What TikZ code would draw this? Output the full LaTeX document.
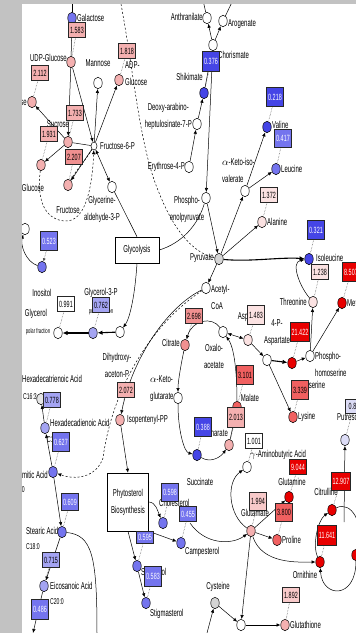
\documentclass[tikz,border=0pt]{standalone}
\usepackage{fontspec}
\setmainfont[FakeStretch=0.6]{Liberation Sans}
\usetikzlibrary{shapes.geometric,arrows.meta}
\newcommand\labf{\fontsize{10}{17}\selectfont}
\newcommand\numf{\fontsize{9}{9}\selectfont}
\newcommand\smlf{\fontsize{7}{7}\selectfont}
\newcommand\cf{\fontsize{8.5}{9}\selectfont}
\pgfdeclarelayer{back}\pgfdeclarelayer{bg}\pgfdeclarelayer{front}
\pgfsetlayers{back,bg,main,front}
\definecolor{cpink}{HTML}{F4B0B0}
\definecolor{cpinkd}{HTML}{F09090}
\definecolor{clpink}{HTML}{FBE2E2}
\definecolor{cvpink}{HTML}{F8CACA}
\definecolor{cred}{HTML}{E80000}
\definecolor{cmred}{HTML}{F06060}
\definecolor{cdblue}{HTML}{4545E6}
\definecolor{cmblue}{HTML}{7474EE}
\definecolor{clblue}{HTML}{A4A4F2}
\definecolor{cvlblue}{HTML}{DCDCF6}
\definecolor{cgray}{HTML}{D4D4D4}
\definecolor{cxlgray}{HTML}{E6E6E6}
\definecolor{cmargin}{HTML}{C2C2C2}
\tikzset{
 met/.style={ellipse, draw=black, line width=0.5pt, minimum width=8.5pt, minimum height=11.5pt, inner sep=0pt},
 val/.style={rectangle, draw=black!85, line width=0.6pt, minimum width=17pt, minimum height=15pt, inner xsep=1.5pt, inner ysep=0pt, font=\numf},
 lab/.style={inner sep=0pt, font=\labf},
 sml/.style={inner sep=0pt, font=\smlf},
 cl/.style={inner sep=0pt, font=\cf},
 rx/.style={-{Latex[length=4pt,width=3.5pt]}, line width=0.5pt},
 rxb/.style={{Latex[length=4pt,width=3.5pt]}-{Latex[length=4pt,width=3.5pt]}, line width=0.5pt},
 rxt/.style={-{Latex[length=5pt,width=4.5pt]}, line width=1.1pt},
 ln/.style={line width=0.5pt},
 dl/.style={dash pattern=on 2pt off 2pt, line width=0.5pt},
 tie/.style={densely dotted, line width=0.5pt, black!70},
 pbox/.style={draw, line width=0.6pt, fill=white, align=center, font=\labf, inner sep=2pt},
}
\begin{document}
\begin{tikzpicture}[x=1pt,y=-1pt]
\useasboundingbox (0,0) rectangle (356,633);
\begin{pgfonlayer}{back}
\fill[white] (0,0) rectangle (356,633);
\end{pgfonlayer}
% ---------- metabolites ----------
\node[met,fill=cmblue] (gal) at (72,18) {};
\node[met,fill=cpink] (udpg) at (71,62) {};
\node[met,fill=white] (mann) at (98,83) {};
\node[met,fill=cpink] (adpg) at (119,80) {};
\node[met,fill=cpink] (tre) at (32,102) {};
\node[met,fill=cpink] (suc) at (68,142) {};
\node[met,fill=white,minimum width=6pt,minimum height=8pt] (f6p) at (94,146) {};
\node[met,fill=cpink] (glc) at (41,165) {};
\node[met,fill=cpink] (fru) at (68,185) {};
\node[met,fill=white] (gap) at (112,187) {};
\node[met,fill=white] (anth) at (207,18) {};
\node[met,fill=white] (arog) at (223,21) {};
\node[met,fill=white] (chor) at (213,45) {};
\node[met,fill=cdblue] (shik) at (204,93) {};
\node[met,fill=white] (dahp) at (197,124) {};
\node[met,fill=white] (e4p) at (189,167) {};
\node[met,fill=white] (pep) at (206,198) {};
\node[met,fill=white] (kiv) at (245,191) {};
\node[met,fill=cdblue] (vali) at (267,127) {};
\node[met,fill=cmblue] (leu) at (276,169) {};
\node[met,fill=clpink] (ala) at (262,222) {};
\node[met,fill=cgray] (pyr) at (219,259) {};
\node[met,fill=cdblue] (ile) at (309,259) {};
\node[met,fill=clpink] (thr) at (313,302) {};
\node[met,fill=cred] (meth) at (342,303) {};
\node[met,fill=white] (acoa) at (206,288) {};
\node[met,fill=white] (oaa) at (223,332) {};
\node[met,fill=cpinkd] (cit) at (185,345) {};
\node[met,fill=white] (akg) at (178,398) {};
\node[met,fill=clpink] (asp) at (248,340) {};
\node[met,fill=white] (pasp) at (267,360) {};
\node[met,fill=cred] (hser) at (292,363) {};
\node[met,fill=white] (phser) at (310,356) {};
\node[met,fill=cmred] (lys) at (293,417) {};
\node[met,fill=cmred] (mal) at (237,407) {};
\node[met,fill=cpink] (fum) at (229,445) {};
\node[met,fill=cdblue] (succ) at (197,455) {};
\node[met,fill=white] (gaba) at (247,467) {};
\node[met,fill=cred] (gln) at (289,497) {};
\node[met,fill=cpink] (glu) at (251,531) {};
\node[met,fill=cmred] (pro) at (277,540) {};
\node[met,fill=cred] (citr) at (332,510) {};
\node[met,fill=cred] (orn) at (320,562) {};
\node[met,fill=cred] (arg) at (356,555) {};
\node[met,fill=cvlblue] (putr) at (345,440) {};
\node[met,fill=cgray] (cys) at (215,603) {};
\node[met,fill=white] (gec) at (241,625) {};
\node[met,fill=cpink] (gsh) at (285,625) {};
\node[met,fill=white] (ino0) at (25,229) {};
\node[met,fill=cmblue] (ino) at (42,267) {};
\node[met,fill=white] (glyc) at (58,333) {};
\node[met,fill=clblue] (g3p) at (93,333) {};
\node[met,fill=white] (dhap) at (120,332) {};
\node[met,fill=cpink] (ipp) at (120,420) {};
\node[met,fill=cxlgray] (c163) at (41,399) {};
\node[met,fill=clblue] (c162) at (45,428) {};
\node[met,fill=cmblue] (c160) at (53,472) {};
\node[met,fill=cmblue] (c180) at (62,532) {};
\node[met,fill=clblue] (c200) at (44,586) {};
\node[met,fill=cmblue] (chol) at (163,523) {};
\node[met,fill=cmblue] (camp) at (181,543) {};
\node[met,fill=cmblue] (sito) at (137,566) {};
\node[met,fill=cmblue] (stig) at (146,603) {};
% ---------- process boxes ----------
\node[pbox,minimum width=44pt,minimum height=26pt] (glyco) at (137,250) {Glycolysis};
\node[pbox,minimum width=41pt,minimum height=58pt] (phyto) at (128,502) {Phytosterol\\Biosynthesis};
% ---------- labels ----------
\node[lab,anchor=west] (lgal) at (77,18) {Galactose};
\node[lab,anchor=east] (ludpg) at (67,58) {UDP-Glucose};
\node[lab] (lmann) at (98,63) {Mannose};
\node[lab,anchor=west,align=left] (ladpg) at (125,74) {ADP-\\Glucose};
\node[lab,anchor=east] (ltre) at (27,103) {ose};
\node[lab] (lsuc) at (58,124) {Sucrose};
\node[lab,anchor=west] (lf6p) at (100,146) {Fructose-6-P};
\node[lab] (lglc) at (33,188) {Glucose};
\node[lab] (lfru) at (68,210) {Fructose};
\node[lab,align=center] (lgap) at (102,209) {Glycerine-\\aldehyde-3-P};
\node[lab,anchor=east] (lanth) at (203,17) {Anthranilate};
\node[lab,anchor=west] (larog) at (228,24) {Arogenate};
\node[lab,anchor=west] (lchor) at (218,55) {Chorismate};
\node[lab,anchor=east] (lshik) at (203,77) {Shikimate};
\node[lab,anchor=east,align=center] (ldahp) at (192,116) {Deoxy-arabino-\\heptulosinate-7-P};
\node[lab,anchor=east] (le4p) at (185,167) {Erythrose-4-P};
\node[lab,align=center] (lpep) at (187,209) {Phospho-\\enolpyruvate};
\node[lab,anchor=west,align=left] (lkiv) at (222,170) {$\alpha$-Keto-iso-\\valerate};
\node[lab,anchor=west] (lval) at (272,125) {Valine};
\node[lab,anchor=west] (lleu) at (281,169) {Leucine};
\node[lab,anchor=west] (lala) at (267,222) {Alanine};
\node[lab,anchor=east] (lpyr) at (214,258) {Pyruvate};
\node[lab,anchor=west] (lile) at (316,258) {Isoleucine};
\node[lab,anchor=east] (lthr) at (307,302) {Threonine};
\node[lab,anchor=west] (lmet) at (347,303) {Methionine};
\node[lab,anchor=west,align=left] (lacoa) at (211,297) {Acetyl-\\CoA};
\node[lab,anchor=east] (lcit) at (180,343) {Citrate};
\node[lab,align=center] (loaa) at (214,356) {Oxalo-\\acetate};
\node[lab] (lasp) at (243,317) {Asp};
\node[lab,align=center] (lpasp) at (277,333) {4-P-\\Aspartate};
\node[lab,anchor=west,align=left] (lphser) at (315,364) {Phospho-\\homoserine};
\node[lab] (lhser) at (309,385) {Homoserine};
\node[lab,anchor=west] (llys) at (298,417) {Lysine};
\node[lab,anchor=west,align=left] (lakg) at (150,389) {$\alpha$-Keto-\\glutarate};
\node[lab] (lmal) at (250,398) {Malate};
\node[lab] (lfum) at (215,433) {Fumarate};
\node[lab] (lsucc) at (200,482) {Succinate};
\node[lab,anchor=west] (lgaba) at (250,455) {$\gamma$-Aminobutyric Acid};
\node[lab] (lgln) at (292,482) {Glutamine};
\node[lab] (lglu) at (255,513) {Glutamate};
\node[lab,anchor=west] (lpro) at (282,540) {Proline};
\node[lab] (lcitr) at (326,492) {Citrulline};
\node[lab] (lorn) at (305,575) {Ornithine};
\node[lab,anchor=west] (lputr) at (337,417) {Putrescine};
\node[lab] (lcys) at (218,587) {Cysteine};
\node[lab,anchor=west] (lgsh) at (290,625) {Glutathione};
\node[lab] (lino) at (42,293) {Inositol};
\node[lab] (lglyc) at (36,314) {Glycerol};
\node[sml] (lglyc2) at (38,332) {polar fraction};
\node[lab] (lg3p) at (101,293) {Glycerol-3-P};
\node[sml] (lg3p2) at (101,312) {polar fraction};
\node[lab,align=center] (ldhap) at (117,365) {Dihydroxy-\\aceton-P};
\node[lab,anchor=west] (lipp) at (127,420) {Isopentenyl-PP};
\node[lab,anchor=west] (lc163) at (22,379) {Hexadecatrienoic Acid};
\node[cl,anchor=west] (lc163b) at (23,397) {C16:3};
\node[lab,anchor=west] (lc162) at (50,423) {Hexadecadienoic Acid};
\node[cl,anchor=west] (lc162b) at (47,440) {C16:2};
\node[lab,anchor=east] (lc160) at (48,475) {Palmitic Acid};
\node[cl,anchor=east] (lc160b) at (25,490) {C16:0};
\node[lab,anchor=west] (lc180) at (26,531) {Stearic Acid};
\node[cl,anchor=west] (lc180b) at (26,547) {C18:0};
\node[lab,anchor=west] (lc200) at (50,586) {Eicosanoic Acid};
\node[cl,anchor=west] (lc200b) at (50,602) {C20:0};
\node[lab,anchor=west] (lchol) at (159,503) {Cholesterol};
\node[lab,anchor=west] (lcamp) at (185,552) {Campesterol};
\node[lab,anchor=west] (lsito) at (141,572) {Sitosterol};
\node[lab,anchor=west] (lstig) at (150,614) {Stigmasterol};
% ---------- value boxes ----------
\node[val,fill=cpink] (b1583) at (77,30) {1.583};
\node[val,fill=cpink] (b2112) at (40,73) {2.112};
\node[val,fill=cpink] (b1818) at (127,51) {1.818};
\node[val,fill=cpink] (b1733) at (75,113) {1.733};
\node[val,fill=cpink] (b1931) at (49,134) {1.931};
\node[val,fill=cpinkd] (b2207) at (74,157) {2.207};
\node[val,fill=cdblue,text=white,minimum height=20pt] (b0376) at (211,61) {0.376};
\node[val,fill=cdblue,text=white,minimum height=19pt] (b0218) at (275,97) {0.218};
\node[val,fill=cmblue,text=white,minimum height=18pt] (b0417) at (283,138) {0.417};
\node[val,fill=clpink] (b1372) at (269,195) {1.372};
\node[val,fill=cdblue,text=white,minimum height=19pt] (b0321) at (316,230) {0.321};
\node[val,fill=clpink] (b1238) at (320,272) {1.238};
\node[val,fill=cred,text=white,minimum height=19pt] (b8507) at (351,272) {8.507};
\node[val,fill=cmblue,text=white,minimum height=19pt] (b0523) at (49,241) {0.523};
\node[val,fill=white] (b0991) at (66,304) {0.991};
\node[val,fill=clblue] (b0762) at (101,305) {0.762};
\node[val,fill=cpinkd] (b2698) at (194,316) {2.698};
\node[val,fill=clpink,minimum height=19pt] (b1483) at (256,315) {1.483};
\node[val,fill=cred,text=white,minimum height=19pt] (b21422) at (300,332) {21.422};
\node[val,fill=cmred,minimum height=19pt] (b3101) at (245,375) {3.101};
\node[val,fill=cpink,minimum height=20pt] (b2013) at (236,417) {2.013};
\node[val,fill=cdblue,text=white,minimum height=19pt] (b0388) at (203,427) {0.388};
\node[val,fill=cmred,minimum height=19pt] (b3339) at (300,390) {3.339};
\node[val,fill=white] (b1001) at (254,441) {1.001};
\node[val,fill=cred,text=white] (b9044) at (298,467) {9.044};
\node[val,fill=cvlblue,minimum height=14pt] (b0088) at (354,406) {0.88};
\node[val,fill=cvpink,minimum height=18pt] (b1994) at (258,501) {1.994};
\node[val,fill=cmred,minimum height=18pt] (b3800) at (284,512) {3.800};
\node[val,fill=cred,text=white,minimum height=18pt] (b12907) at (341,481) {12.907};
\node[val,fill=cred,text=white,minimum height=20pt] (b11641) at (327,535) {11.641};
\node[val,fill=cvpink] (b1892) at (291,595) {1.892};
\node[val,fill=cpink] (b2072) at (126,390) {2.072};
\node[val,fill=clblue] (b0778) at (52,400) {0.778};
\node[val,fill=cmblue,text=white,minimum height=19pt] (b0627) at (61,442) {0.627};
\node[val,fill=cmblue,text=white,minimum height=17pt] (b0609) at (70,502) {0.609};
\node[val,fill=clblue] (b0715) at (51,560) {0.715};
\node[val,fill=cmblue,text=white,minimum height=20pt] (b0486) at (40,609) {0.486};
\node[val,fill=cmblue,text=white,minimum height=18pt] (b0598) at (170,492) {0.598};
\node[val,fill=cmblue,text=white] (b0455) at (188,514) {0.455};
\node[val,fill=cmblue,text=white,minimum height=12pt] (b0595) at (145,537) {0.595};
\node[val,fill=cmblue,text=white,minimum height=20pt] (b0583) at (153,576) {0.583};
% ---------- free ends ----------
\coordinate (t1) at (72,0);
\coordinate (t2) at (203,0);
\coordinate (t3) at (233,0);
\coordinate (t4) at (121,4);
\coordinate (bEico) at (33,633);
\coordinate (bStear) at (97,633);
\coordinate (bCys) at (207,633);
\coordinate (j455) at (190,523);
\coordinate (putrb) at (344,522);
% ---------- connectors ----------
\begin{pgfonlayer}{bg}
% sugars
\draw[ln] (t1) -- (gal);
\draw[ln] (gal) -- (udpg);
\draw[rx] (udpg) -- (suc);
\draw[rx] (udpg) -- (f6p);
\draw[rx] (f6p) -- (mann);
\draw[rx] (f6p) -- (adpg);
\draw[rx] (suc) -- (tre);
\draw[rx] (suc) -- (glc);
\draw[ln] (suc) -- (f6p);
\draw[rx] (f6p) -- (fru);
\draw[dl] (fru) .. controls (76,170) and (86,160) .. (f6p);
\draw[dl,-{Latex[length=4pt,width=3.5pt]}] (glc) .. controls (36,205) and (48,220) .. (65,221) .. controls (85,222) and (92,190) .. (f6p);
\draw[rxb] (f6p) -- (gap);
\draw[ln] (gap) -- (glyco.north);
\draw[rx] (glyco.south) .. controls (135,295) and (130,318) .. (dhap);
\draw[ln] (glyco.east) .. controls (182,243) and (198,225) .. (pep);
\draw[dl] (t4) .. controls (135,80) and (140,150) .. (160,195) .. controls (172,225) and (190,252) .. (pyr);
% aromatic
\draw[ln] (t2) -- (anth);
\draw[ln] (t3) -- (arog);
\draw[rx] (chor) -- (anth);
\draw[rx] (chor) -- (arog);
\draw[rx] (shik) -- (chor);
\draw[rx] (dahp) -- (shik);
\draw[rx] (e4p) -- (dahp);
\draw[rx] (chor) -- (pep);
% pyruvate family
\draw[rx] (pep) -- (pyr);
\draw[rx] (pyr) -- (kiv);
\draw[rx] (kiv) -- (vali);
\draw[rx] (kiv) -- (leu);
\draw[rx] (pyr) -- (ala);
\draw[rxt] (pyr) .. controls (250,262) and (280,257) .. (ile);
\draw[rx] (thr) .. controls (300,287) and (290,262) .. (ile);
\draw[rx] (pyr) -- (acoa);
% TCA
\draw[rx] (oaa) .. controls (212,316) and (192,320) .. (cit);
\draw[rx] (cit) .. controls (182,360) and (178,380) .. (akg);
\draw[rx] (akg) .. controls (178,430) and (184,452) .. (succ);
\draw[rx] (succ) .. controls (210,463) and (220,458) .. (fum);
\draw[rx] (fum) -- (mal);
\draw[rx] (mal) .. controls (237,385) and (236,350) .. (oaa);
% aspartate family
\draw[rxb] (oaa) -- (asp);
\draw[rx] (asp) -- (pasp);
\draw[rxt] (pasp) -- (hser);
\draw[rx] (hser) -- (phser);
\draw[rx] (phser) -- (thr);
\draw[rx] (phser) -- (meth);
\draw[rx] (pasp) -- (lys);
% glutamate family
\draw[rx] (glu) -- (gln);
\draw[rx] (glu) -- (pro);
\draw[rx] (glu) .. controls (228,515) and (226,482) .. (gaba);
\draw[rx] (glu) .. controls (262,565) and (300,562) .. (orn);
\draw[rx] (orn) .. controls (312,545) and (318,520) .. (citr);
\draw[rx] (citr) .. controls (352,500) and (364,525) .. (arg);
\draw[rx] (arg) .. controls (356,600) and (322,598) .. (orn);
\draw[rx] (putrb) -- (putr);
\draw[rx] (j455) .. controls (205,545) and (232,545) .. (glu);
\draw[rx] (glu) -- (gec);
\draw[rx] (bCys) -- (cys);
\draw[rx] (cys) -- (gec);
\draw[rx] (gec) -- (gsh);
% lipids
\draw[rx] (ino) .. controls (26,262) and (20,245) .. (ino0);
\draw[rxt] (dhap) -- (g3p);
\draw[rxt] (g3p) -- (glyc);
\draw[rx] (acoa) .. controls (170,305) and (133,355) .. (ipp);
\draw[dl,-{Latex[length=4pt,width=3.5pt]}] (acoa) .. controls (150,325) and (112,390) .. (103,458) .. controls (96,478) and (75,480) .. (c160);
\draw[rx] (c162) -- (c163);
\draw[rx] (c160) -- (c162);
\draw[rx] (c160) -- (c180);
\draw[rx] (c180) -- (c200);
\draw[rx] (c200) -- (bEico);
\draw[ln] (c180) .. controls (92,535) and (97,555) .. (bStear);
\draw[rx] (ipp) -- (phyto.north);
\draw[rx] (phyto.east) .. controls (156,502) and (158,512) .. (chol);
\draw[rx] (phyto.south east) -- (camp);
\draw[rx] (phyto.south) -- (sito);
\draw[rx] (sito) -- (stig);
% value ties
\draw[tie] (b1583) -- (udpg);
\draw[tie] (b2112) -- (tre);
\draw[tie] (b1818) -- (adpg);
\draw[tie] (b1733) -- (suc);
\draw[tie] (b1931) -- (glc);
\draw[tie] (b2207) -- (fru);
\draw[tie] (b0376) -- (shik);
\draw[tie] (b0218) -- (vali);
\draw[tie] (b0417) -- (leu);
\draw[tie] (b1372) -- (ala);
\draw[tie] (b0321) -- (ile);
\draw[tie] (b1238) -- (thr);
\draw[tie] (b8507) -- (meth);
\draw[tie,-{Latex[length=3pt,width=3pt]}] (b0523) -- (ino);
\draw[tie] (b0991) -- (glyc);
\draw[tie] (b0762) -- (g3p);
\draw[tie] (b2698) -- (cit);
\draw[tie] (b1483) -- (asp);
\draw[tie] (b21422) -- (hser);
\draw[tie] (b3101) -- (mal);
\draw[tie] (b2013) -- (fum);
\draw[tie] (b0388) -- (succ);
\draw[tie] (b3339) -- (lys);
\draw[tie] (b1001) -- (gaba);
\draw[tie] (b9044) -- (gln);
\draw[tie] (b0088) -- (putr);
\draw[tie] (b1994) -- (glu);
\draw[tie] (b3800) -- (pro);
\draw[tie] (b12907) -- (citr);
\draw[tie] (b11641) -- (orn);
\draw[tie] (b1892) -- (gsh);
\draw[tie] (b2072) -- (ipp);
\draw[tie] (b0778) -- (c162);
\draw[tie] (b0627) -- (c160);
\draw[tie] (b0609) -- (c180);
\draw[tie] (b0715) -- (c200);
\draw[tie] (b0598) -- (chol);
\draw[tie] (b0455) -- (camp);
\draw[tie] (b0595) -- (sito);
\draw[tie] (b0583) -- (stig);
\end{pgfonlayer}
% ---------- window margin ----------
\begin{pgfonlayer}{front}
\fill[cmargin] (0,0) rectangle (22,633);
\fill[cmargin] (0,0) rectangle (356,4);
\end{pgfonlayer}
\end{tikzpicture}
\end{document}
